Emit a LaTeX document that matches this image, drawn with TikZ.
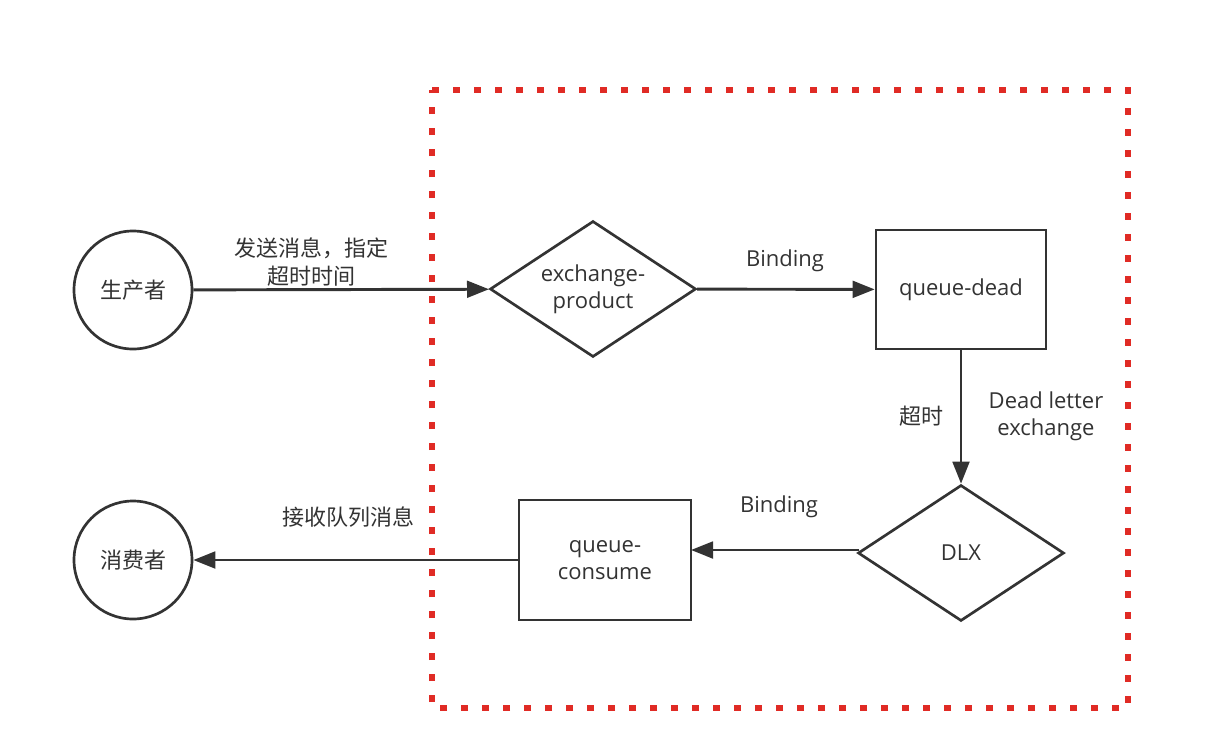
\documentclass[tikz,border=0pt]{standalone}
\usepackage{fontspec}
\setmainfont{Open Sans}
\newfontfamily\cjk{Noto Sans CJK SC}
\usetikzlibrary{shapes.geometric,arrows.meta}
\definecolor{ink}{HTML}{333333}
\definecolor{redd}{HTML}{E02B25}
\begin{document}
\begin{tikzpicture}[x=0.75pt,y=-0.75pt,
  every node/.style={font=\fontsize{16.5}{20.5}\selectfont, text=ink},
  shp/.style={draw=ink, line width=2pt, fill=white},
  circ/.style={shp, circle, minimum size=118*0.75pt, inner sep=0pt},
  dia/.style={shp, diamond, shape aspect=1.515, minimum width=206*0.75pt, minimum height=136*0.75pt, inner sep=0pt, align=center},
  box/.style={shp, rectangle, minimum width=170*0.75pt, minimum height=119*0.75pt, align=center},
  conn/.style={draw=ink, line width=2.2pt, -{Triangle[length=16.5pt,width=12.5pt]}},
  lbl/.style={align=center, inner sep=0pt}]
\useasboundingbox (0,0) rectangle (1228,754);
\fill[white] (0,0) rectangle (1228,754);
% dotted frame
\draw[redd, line width=5pt, dash pattern=on 5pt off 10.75pt] (432,90) -- (1128,90) -- (1128,708) -- (432,708) -- cycle;
% nodes
\node[circ] (prod) at (133,290) {\cjk 生产者};
\node[circ] (cons) at (133,560) {\cjk 消费者};
\node[dia] (ex) at (593,289) {exchange-\\product};
\node[box] (qd) at (961,289.5) {queue-dead};
\node[dia] (dlx) at (961,553) {DLX};
\node[box, minimum width=172*0.75pt, minimum height=120*0.75pt] (qc) at (605,560) {queue-\\consume};
% connectors
\draw[conn] (prod) -- (ex);
\draw[conn] (ex) -- (qd);
\draw[conn] (qd) -- (dlx);
\coordinate (dlxl) at (859,550);
\coordinate (qcr) at (691,550);
\draw[conn] (dlxl) -- (qcr);
\draw[conn] (qc) -- (cons);
% labels
\node[lbl] (l1) at (311,262) {\cjk 发送消息，指定\\\cjk 超时时间};
\node[lbl] (l2) at (785,261) {Binding};
\node[lbl] (l3) at (921,416) {\cjk 超时};
\node[lbl] (l4) at (1046,416) {Dead letter\\exchange};
\node[lbl] (l5) at (779,507) {Binding};
\node[lbl] (l6) at (348,517) {\cjk 接收队列消息};
\end{tikzpicture}
\end{document}
